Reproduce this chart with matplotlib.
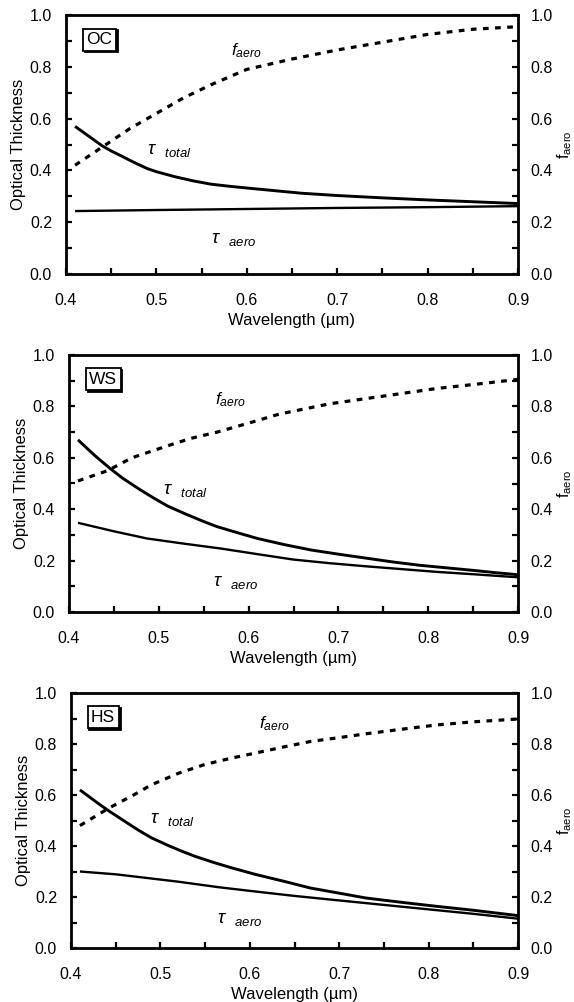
import matplotlib
matplotlib.use("Agg")
import matplotlib.pyplot as plt
from matplotlib.ticker import MultipleLocator, FormatStrFormatter
from matplotlib.transforms import offset_copy

plt.rcParams['font.family'] = ['Liberation Sans', 'DejaVu Sans']
plt.rcParams['mathtext.fontset'] = 'custom'
plt.rcParams['mathtext.rm'] = 'Liberation Sans'
plt.rcParams['mathtext.it'] = 'Liberation Sans:italic'
plt.rcParams['mathtext.bf'] = 'Liberation Sans:bold'

# ---- data ----
panel_names = ["OC", "WS", "HS"]

oc_wl_total = [0.41, 0.42, 0.43, 0.44, 0.45, 0.46, 0.47, 0.48, 0.49, 0.50, 0.52, 0.54,
               0.56, 0.58, 0.60, 0.63, 0.66, 0.70, 0.75, 0.80, 0.85, 0.90]
oc_tau_total = [0.57, 0.545, 0.52, 0.495, 0.475, 0.458, 0.44, 0.423, 0.407, 0.395, 0.376, 0.36,
                0.347, 0.339, 0.332, 0.322, 0.312, 0.303, 0.294, 0.286, 0.279, 0.272]
oc_wl_aero = [0.41, 0.50, 0.60, 0.70, 0.80, 0.90]
oc_tau_aero = [0.243, 0.247, 0.251, 0.255, 0.258, 0.262]
oc_wl_f = [0.41, 0.44, 0.47, 0.50, 0.53, 0.56, 0.60, 0.65, 0.70, 0.75, 0.80, 0.85, 0.90]
oc_f_aero = [0.42, 0.49, 0.56, 0.62, 0.68, 0.73, 0.79, 0.83, 0.865, 0.895, 0.925, 0.945, 0.955]

ws_wl_total = [0.41, 0.42, 0.43, 0.447, 0.46, 0.48, 0.495, 0.51, 0.53, 0.55, 0.565, 0.59,
               0.61, 0.64, 0.67, 0.70, 0.73, 0.76, 0.79, 0.82, 0.85, 0.875, 0.90]
ws_tau_total = [0.67, 0.637, 0.605, 0.555, 0.52, 0.474, 0.442, 0.412, 0.381, 0.352, 0.332, 0.306,
                0.286, 0.262, 0.241, 0.225, 0.21, 0.195, 0.182, 0.172, 0.162, 0.153, 0.145]
ws_wl_aero = [0.41, 0.45, 0.487, 0.53, 0.569, 0.61, 0.65, 0.69, 0.73, 0.77, 0.81, 0.85, 0.90]
ws_tau_aero = [0.347, 0.314, 0.286, 0.265, 0.247, 0.225, 0.204, 0.19, 0.178, 0.167, 0.156,
               0.147, 0.135]
ws_wl_f = [0.41, 0.443, 0.47, 0.504, 0.535, 0.565, 0.60, 0.634, 0.69, 0.75, 0.81, 0.85, 0.90]
ws_f_aero = [0.51, 0.55, 0.60, 0.64, 0.675, 0.70, 0.735, 0.77, 0.81, 0.84, 0.87, 0.885, 0.905]

hs_wl_total = [0.41, 0.42, 0.43, 0.443, 0.46, 0.475, 0.49, 0.51, 0.525, 0.54, 0.56, 0.58,
               0.607, 0.64, 0.668, 0.70, 0.73, 0.77, 0.81, 0.85, 0.90]
hs_tau_total = [0.62, 0.594, 0.568, 0.536, 0.497, 0.463, 0.432, 0.40, 0.378, 0.358, 0.335, 0.314,
                0.288, 0.26, 0.235, 0.215, 0.196, 0.179, 0.163, 0.148, 0.127]
hs_wl_aero = [0.41, 0.45, 0.484, 0.52, 0.566, 0.61, 0.648, 0.69, 0.73, 0.77, 0.81, 0.85, 0.90]
hs_tau_aero = [0.30, 0.289, 0.275, 0.26, 0.238, 0.22, 0.205, 0.19, 0.176, 0.162, 0.148, 0.134,
               0.115]
hs_wl_f = [0.41, 0.443, 0.47, 0.49, 0.52, 0.55, 0.58, 0.607, 0.64, 0.668, 0.70, 0.73, 0.77,
           0.81, 0.85, 0.90]
hs_f_aero = [0.48, 0.55, 0.60, 0.64, 0.685, 0.72, 0.745, 0.765, 0.79, 0.81, 0.825, 0.84, 0.858,
             0.875, 0.887, 0.898]

panels = [
    (oc_wl_total, oc_tau_total, oc_wl_aero, oc_tau_aero, oc_wl_f, oc_f_aero),
    (ws_wl_total, ws_tau_total, ws_wl_aero, ws_tau_aero, ws_wl_f, ws_f_aero),
    (hs_wl_total, hs_tau_total, hs_wl_aero, hs_tau_aero, hs_wl_f, hs_f_aero),
]

# label positions (data coords)
label_pos = [
    {"f": (0.582, 0.845), "tt": (0.49, 0.465), "ta": (0.56, 0.12)},
    {"f": (0.563, 0.81), "tt": (0.505, 0.46), "ta": (0.56, 0.10)},
    {"f": (0.61, 0.86), "tt": (0.488, 0.49), "ta": (0.563, 0.10)},
]

axes_rects = [
    [66 / 574, 1 - 274 / 1002, 452 / 574, 259 / 1002],
    [69 / 574, 1 - 612 / 1002, 449 / 574, 257 / 1002],
    [71 / 574, 1 - 948 / 1002, 447 / 574, 255 / 1002],
]

FS_TICK = 11.5
FS_LAB = 12

fig = plt.figure(figsize=(5.74, 10.02), dpi=100)

for i, (rect, data, name, lp) in enumerate(zip(axes_rects, panels, panel_names, label_pos)):
    wt, tt, wa, ta, wf, fa = data
    ax = fig.add_axes(rect)
    ax.plot(wt, tt, color='black', lw=2.1, solid_capstyle='butt', solid_joinstyle='round')
    ax.plot(wa, ta, color='black', lw=1.7, solid_capstyle='butt', solid_joinstyle='round')
    ax.set_xlim(0.4, 0.9)
    ax.set_ylim(0.0, 1.0)
    ax.xaxis.set_major_locator(MultipleLocator(0.1))
    ax.xaxis.set_minor_locator(MultipleLocator(0.05))
    ax.yaxis.set_major_locator(MultipleLocator(0.2))
    ax.yaxis.set_minor_locator(MultipleLocator(0.1))
    ax.xaxis.set_major_formatter(FormatStrFormatter('%.1f'))
    ax.yaxis.set_major_formatter(FormatStrFormatter('%.1f'))
    ax.tick_params(which='both', direction='in', top=False, right=False,
                   labelsize=FS_TICK, width=1.6, length=4.5)
    ax.tick_params(axis='x', which='both', pad=14)
    ax.tick_params(axis='y', which='both', pad=10)
    for s in ax.spines.values():
        s.set_linewidth(2.0)
    ax.set_ylabel("Optical Thickness", fontsize=FS_LAB, labelpad=3)
    ax.set_xlabel("Wavelength (\u00b5m)", fontsize=FS_LAB, labelpad=3)

    ax2 = ax.twinx()
    ax2.plot(wf, fa, color='black', lw=2.3, linestyle=(0, (1.8, 2.0)))
    ax2.set_ylim(0.0, 1.0)
    ax2.yaxis.set_major_locator(MultipleLocator(0.2))
    ax2.yaxis.set_minor_locator(MultipleLocator(0.1))
    ax2.yaxis.set_major_formatter(FormatStrFormatter('%.1f'))
    ax2.tick_params(which='both', direction='in', labelsize=FS_TICK, width=1.6,
                    length=4.5, pad=9)
    ax2.set_ylabel(r"f$_{\mathrm{aero}}$", fontsize=11.5, rotation=90, labelpad=2)

    ax.text(lp["f"][0], lp["f"][1], r"$f_{aero}$", fontsize=12.5)
    ax.text(lp["tt"][0], lp["tt"][1], r"$\tau\ \ _{total}$", fontsize=13.5)
    ax.text(lp["ta"][0], lp["ta"][1], r"$\tau\ \ _{aero}$", fontsize=13.5)

    # label box with a slight drop shadow
    shadow_tr = offset_copy(ax.transAxes, fig=fig, x=1.3, y=-1.3, units='points')
    ax.text(0.045, 0.905, name, transform=shadow_tr, fontsize=12.5,
            ha='left', va='center', color='black', zorder=4,
            bbox=dict(boxstyle='square,pad=0.2', fc='black', ec='black', lw=1.3))
    ax.text(0.045, 0.905, name, transform=ax.transAxes, fontsize=12.5,
            ha='left', va='center', zorder=5,
            bbox=dict(boxstyle='square,pad=0.2', fc='white', ec='black', lw=1.3))

fig.savefig("out.png", dpi=100)
